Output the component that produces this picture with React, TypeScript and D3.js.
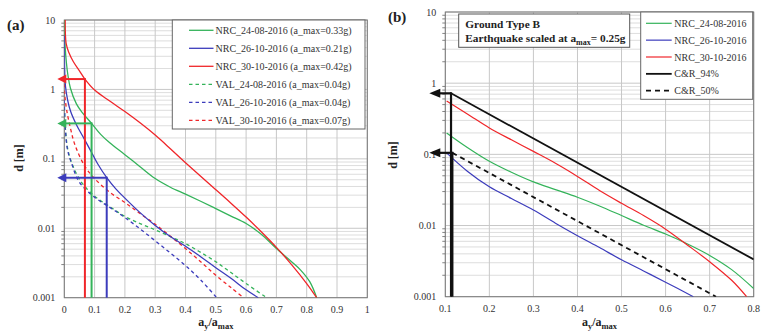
import React from "react";
import * as d3 from "d3";

// ---------- DATA ----------
const xTicksA = [0, 0.1, 0.2, 0.3, 0.4, 0.5, 0.6, 0.7, 0.8, 0.9, 1];
const xTicksB = [0.1, 0.2, 0.3, 0.4, 0.5, 0.6, 0.7, 0.8];
const yTicks = [10, 1, 0.1, 0.01, 0.001];
const yTickLabels = ["10", "1", "0.1", "0.01", "0.001"];

// panel (a) series: [ay/amax, d]
const nrc2408A: [number, number][] = [
  [0.0, 10], [0.003, 4], [0.007, 2.4], [0.012, 1.6], [0.02, 1.05], [0.04, 0.62], [0.06, 0.46],
  [0.09, 0.324], [0.12, 0.225], [0.15, 0.17], [0.2, 0.115], [0.25, 0.077], [0.3, 0.052],
  [0.35, 0.039], [0.4, 0.031], [0.45, 0.0245], [0.5, 0.0192], [0.55, 0.015], [0.6, 0.0117],
  [0.65, 0.0082], [0.7, 0.0051], [0.75, 0.0033], [0.78, 0.0025], [0.81, 0.0017], [0.833, 0.001],
];
const nrc2610A: [number, number][] = [
  [0.0, 6], [0.001, 2.1], [0.004, 1.1], [0.011, 0.7], [0.021, 0.48], [0.04, 0.31], [0.06, 0.215],
  [0.085, 0.136], [0.11, 0.085], [0.14, 0.0536], [0.17, 0.037], [0.2, 0.0272], [0.25, 0.0168],
  [0.3, 0.011], [0.35, 0.0076], [0.4, 0.0055], [0.45, 0.0039], [0.5, 0.0027], [0.55, 0.0019],
  [0.6, 0.0013], [0.64, 0.001],
];
const nrc3010A: [number, number][] = [
  [0.003, 10], [0.006, 4.6], [0.015, 3.4], [0.03, 2.5], [0.05, 1.85], [0.068, 1.41], [0.1, 0.98],
  [0.15, 0.68], [0.2, 0.48], [0.25, 0.33], [0.3, 0.22], [0.35, 0.14], [0.4, 0.088], [0.45, 0.056],
  [0.5, 0.036], [0.55, 0.023], [0.6, 0.0145], [0.65, 0.0089], [0.7, 0.0053], [0.75, 0.003],
  [0.8, 0.0016], [0.833, 0.001],
];
const val2408A: [number, number][] = [
  [0.0, 0.56], [0.004, 0.26], [0.012, 0.134], [0.027, 0.082], [0.057, 0.046], [0.1, 0.029],
  [0.15, 0.0205], [0.2, 0.0148], [0.25, 0.0117], [0.3, 0.0095], [0.35, 0.0076], [0.4, 0.006],
  [0.45, 0.0045], [0.5, 0.0033], [0.55, 0.0023], [0.6, 0.0016], [0.668, 0.001],
];
const val2610A: [number, number][] = [
  [0.0, 0.7], [0.003, 0.3], [0.01, 0.14], [0.024, 0.086], [0.05, 0.046], [0.1, 0.028],
  [0.15, 0.02], [0.2, 0.0143], [0.25, 0.0098], [0.3, 0.0066], [0.35, 0.0044], [0.4, 0.0029],
  [0.45, 0.0018], [0.503, 0.001],
];
const val3010A: [number, number][] = [
  [0.0, 1.2], [0.002, 0.8], [0.008, 0.5], [0.02, 0.28], [0.035, 0.16], [0.068, 0.078],
  [0.1, 0.052], [0.15, 0.033], [0.2, 0.0235], [0.25, 0.0163], [0.3, 0.0114], [0.35, 0.0077],
  [0.4, 0.0051], [0.45, 0.0033], [0.5, 0.0021], [0.55, 0.0014], [0.591, 0.001],
];
// arrows (a): [ay/amax, d]
const arrowsA: [number, number][] = [[0.068, 1.41], [0.09, 0.324], [0.14, 0.0536]];

// panel (b) series
const nrc2408B: [number, number][] = [
  [0.103, 0.2], [0.15, 0.125], [0.2, 0.08], [0.25, 0.056], [0.3, 0.041], [0.35, 0.032],
  [0.4, 0.025], [0.45, 0.0188], [0.5, 0.0138], [0.55, 0.0101], [0.6, 0.0076], [0.65, 0.0055],
  [0.7, 0.0038], [0.75, 0.0024], [0.8, 0.0013],
];
const nrc2610B: [number, number][] = [
  [0.103, 0.105], [0.15, 0.058], [0.2, 0.035], [0.25, 0.024], [0.3, 0.0165], [0.35, 0.0108],
  [0.4, 0.0072], [0.45, 0.0049], [0.5, 0.0033], [0.55, 0.0023], [0.6, 0.0016], [0.663, 0.001],
];
const nrc3010B: [number, number][] = [
  [0.103, 0.56], [0.15, 0.37], [0.2, 0.235], [0.25, 0.16], [0.3, 0.11], [0.35, 0.075],
  [0.4, 0.049], [0.45, 0.031], [0.5, 0.0205], [0.55, 0.0138], [0.6, 0.0089], [0.65, 0.0053],
  [0.7, 0.0031], [0.75, 0.0017], [0.784, 0.001],
];
const cr94B: [number, number][] = [[0.113, 0.72], [0.8, 0.00334]];
const cr50B: [number, number][] = [[0.116, 0.105], [0.7145, 0.001]];
const arrowsB: [number, number][] = [[0.113, 0.72], [0.116, 0.105]];

const legendA = [
  "NRC_24-08-2016 (a_max=0.33g)",
  "NRC_26-10-2016 (a_max=0.21g)",
  "NRC_30-10-2016 (a_max=0.42g)",
  "VAL_24-08-2016 (a_max=0.04g)",
  "VAL_26-10-2016 (a_max=0.04g)",
  "VAL_30-10-2016 (a_max=0.07g)",
];
const legendB = ["NRC_24-08-2016", "NRC_26-10-2016", "NRC_30-10-2016", "C&R_94%", "C&R_50%"];

// ---------- STYLE ----------
const GREEN = "#34b35a";
const BLUE = "#3c3cbc";
const RED = "#f0262a";
const BLACK = "#111";
const FONT = "Liberation Serif, DejaVu Serif, Times New Roman, serif";
const GRID = "#d4d4d4";

const minorVals: number[] = [];
for (let e = -3; e < 1; e++) for (let m = 2; m <= 9; m++) minorVals.push(m * Math.pow(10, e));

type Series = { data: [number, number][]; color: string; dash?: string; width: number };

function Frame({ x, y, xTicks, xFmt }: any) {
  const [x0, x1] = x.range();
  const [y0, y1] = y.range();
  return (
    <g>
      <rect x={x0} y={y1} width={x1 - x0} height={y0 - y1} fill="#fff" />
      {minorVals.map((v, i) => (
        <line key={"m" + i} x1={x0} x2={x1} y1={y(v)} y2={y(v)} stroke={GRID} strokeWidth={0.8} />
      ))}
      {yTicks.map((v, i) => (
        <line key={"y" + i} x1={x0} x2={x1} y1={y(v)} y2={y(v)} stroke="#c8c8c8" strokeWidth={1} />
      ))}
      {xTicks.map((v: number, i: number) => (
        <line key={"x" + i} x1={x(v)} x2={x(v)} y1={y0} y2={y1} stroke="#c8c8c8" strokeWidth={1} />
      ))}
      <rect x={x0} y={y1} width={x1 - x0} height={y0 - y1} fill="none" stroke="#7a7a7a" strokeWidth={1} />
      {minorVals.map((v, i) => (
        <line key={"t" + i} x1={x0 - 3} x2={x0} y1={y(v)} y2={y(v)} stroke="#666" strokeWidth={0.8} />
      ))}
      {yTicks.map((v, i) => (
        <text key={"yl" + i} x={x0 - 9} y={y(v) + 3.5} textAnchor="end" fontSize={10} fill="#333">
          {yTickLabels[i]}
        </text>
      ))}
      {xTicks.map((v: number, i: number) => (
        <text key={"xl" + i} x={x(v)} y={y0 + 15} textAnchor="middle" fontSize={10} fill="#333">
          {xFmt(v)}
        </text>
      ))}
    </g>
  );
}

function Curves({ x, y, series, clipId }: any) {
  const line = d3
    .line<[number, number]>()
    .x((d) => x(d[0]))
    .y((d) => y(d[1]))
    .curve(d3.curveCatmullRom.alpha(0.5));
  return (
    <g clipPath={`url(#${clipId})`}>
      {series.map((s: Series, i: number) => (
        <path key={i} d={line(s.data) || ""} fill="none" stroke={s.color} strokeWidth={s.width} strokeDasharray={s.dash} />
      ))}
    </g>
  );
}

function Arrow({ x, y, ax, ad, color, tipOffset, width, headLen, headHalf }: any) {
  const vx = x(ax);
  const vy = y(ad);
  const tip = x.range()[0] - tipOffset;
  const bottom = y.range()[0];
  return (
    <g>
      <line x1={vx} x2={vx} y1={bottom} y2={vy - width / 2} stroke={color} strokeWidth={width} />
      <line x1={vx} x2={tip + headLen - 1} y1={vy} y2={vy} stroke={color} strokeWidth={width} />
      <polygon points={`${tip},${vy} ${tip + headLen},${vy - headHalf} ${tip + headLen},${vy + headHalf}`} fill={color} />
    </g>
  );
}

function XLabel({ cx, yb }: any) {
  return (
    <text x={cx} y={yb} textAnchor="middle" fontSize={12} fontWeight="bold" fill="#222">
      a<tspan fontSize={8.5} dy={3}>y</tspan>
      <tspan dy={-3}>/a</tspan>
      <tspan fontSize={8.5} dy={3}>max</tspan>
    </text>
  );
}

function YLabel({ cx, cy }: any) {
  return (
    <text x={cx} y={cy} transform={`rotate(-90 ${cx} ${cy})`} textAnchor="middle" dominantBaseline="middle" fontSize={12} fontWeight="bold" fill="#222">
      d [m]
    </text>
  );
}

export default function App() {
  const xA = d3.scaleLinear().domain([0, 1]).range([64.3, 367.3]);
  const yA = d3.scaleLog().domain([0.001, 10]).range([297.7, 20]);
  const xB = d3.scaleLinear().domain([0.1, 0.8]).range([445.3, 753.7]);
  const yB = d3.scaleLog().domain([0.001, 10]).range([296.7, 12]);

  const seriesA: Series[] = [
    { data: val2408A, color: GREEN, dash: "3.5,3", width: 1.3 },
    { data: val2610A, color: BLUE, dash: "3.5,3", width: 1.3 },
    { data: val3010A, color: RED, dash: "3.5,3", width: 1.3 },
    { data: nrc2408A, color: GREEN, width: 1.3 },
    { data: nrc2610A, color: BLUE, width: 1.3 },
    { data: nrc3010A, color: RED, width: 1.3 },
  ];
  const legendStyleA = [
    { color: GREEN }, { color: BLUE }, { color: RED },
    { color: GREEN, dash: "3.5,3" }, { color: BLUE, dash: "3.5,3" }, { color: RED, dash: "3.5,3" },
  ];
  const arrowColorsA = [RED, GREEN, BLUE];

  const seriesB: Series[] = [
    { data: cr50B, color: BLACK, dash: "5,4", width: 1.8 },
    { data: nrc2610B, color: BLUE, width: 1.2 },
    { data: nrc2408B, color: GREEN, width: 1.2 },
    { data: nrc3010B, color: RED, width: 1.2 },
    { data: cr94B, color: BLACK, width: 1.8 },
  ];
  const legendStyleB = [
    { color: GREEN, w: 1.2 }, { color: BLUE, w: 1.2 }, { color: RED, w: 1.2 },
    { color: BLACK, w: 1.8 }, { color: BLACK, w: 1.8, dash: "5,4" },
  ];

  const fmt = (v: number) => (v === 0 ? "0" : v === 1 ? "1" : d3.format(".1f")(v));

  return (
    <svg width={762} height={332} style={{ position: "absolute", left: 0, top: 0, fontFamily: FONT }} fontFamily={FONT} xmlns="http://www.w3.org/2000/svg">
      <defs>
        <clipPath id="clipA">
          <rect x={64.3} y={20} width={303} height={277.7} />
        </clipPath>
        <clipPath id="clipB">
          <rect x={445.3} y={12} width={308.4} height={284.7} />
        </clipPath>
      </defs>
      <rect width={762} height={332} fill="#fff" />

      {/* Panel (a) */}
      <Frame x={xA} y={yA} xTicks={xTicksA} xFmt={fmt} />
      <Curves x={xA} y={yA} series={seriesA} clipId="clipA" />
      {arrowsA.map((a, i) => (
        <Arrow key={i} x={xA} y={yA} ax={a[0]} ad={a[1]} color={arrowColorsA[i]} tipOffset={7} width={2} headLen={9} headHalf={4.5} />
      ))}
      <rect x={172.3} y={20} width={192.7} height={109} fill="#fff" stroke="#666" strokeWidth={1} />
      {legendA.map((t, i) => {
        const ly = 30.3 + i * 18;
        return (
          <g key={i}>
            <line x1={189} x2={213.5} y1={ly} y2={ly} stroke={legendStyleA[i].color} strokeWidth={1.3} strokeDasharray={legendStyleA[i].dash} />
            <text x={215.5} y={ly + 3.5} fontSize={10} fill="#333">{t}</text>
          </g>
        );
      })}
      <text x={7} y={30} fontSize={15} fontWeight="bold" fill="#222">(a)</text>
      <YLabel cx={20.5} cy={158} />
      <XLabel cx={215.8} yb={326} />

      {/* Panel (b) */}
      <Frame x={xB} y={yB} xTicks={xTicksB} xFmt={(v: number) => d3.format(".1f")(v)} />
      <Curves x={xB} y={yB} series={seriesB} clipId="clipB" />
      {arrowsB.map((a, i) => (
        <Arrow key={i} x={xB} y={yB} ax={a[0]} ad={a[1]} color={BLACK} tipOffset={16} width={2.2} headLen={11} headHalf={4.5} />
      ))}
      <rect x={458.7} y={14} width={171} height={33.3} fill="#fff" stroke="#555" strokeWidth={1} />
      <text x={465.3} y={28} fontSize={11.3} fontWeight="bold" fill="#222">Ground Type B</text>
      <text x={465.3} y={42} fontSize={11.3} fontWeight="bold" fill="#222">
        Earthquake scaled at a<tspan fontSize={8} dy={2.5}>max</tspan>
        <tspan dy={-2.5}>= 0.25g</tspan>
      </text>
      <rect x={640.7} y={12} width={112} height={87.3} fill="#fff" stroke="#666" strokeWidth={1} />
      {legendB.map((t, i) => {
        const ly = 23.3 + i * 16.85;
        const s = legendStyleB[i];
        return (
          <g key={i}>
            <line x1={646} x2={671.7} y1={ly} y2={ly} stroke={s.color} strokeWidth={s.w} strokeDasharray={s.dash} />
            <text x={674.3} y={ly + 3.5} fontSize={10} fill="#333">{t}</text>
          </g>
        );
      })}
      <text x={388} y={22} fontSize={15} fontWeight="bold" fill="#222">(b)</text>
      <YLabel cx={394} cy={155} />
      <XLabel cx={599.5} yb={326} />
    </svg>
  );
}
